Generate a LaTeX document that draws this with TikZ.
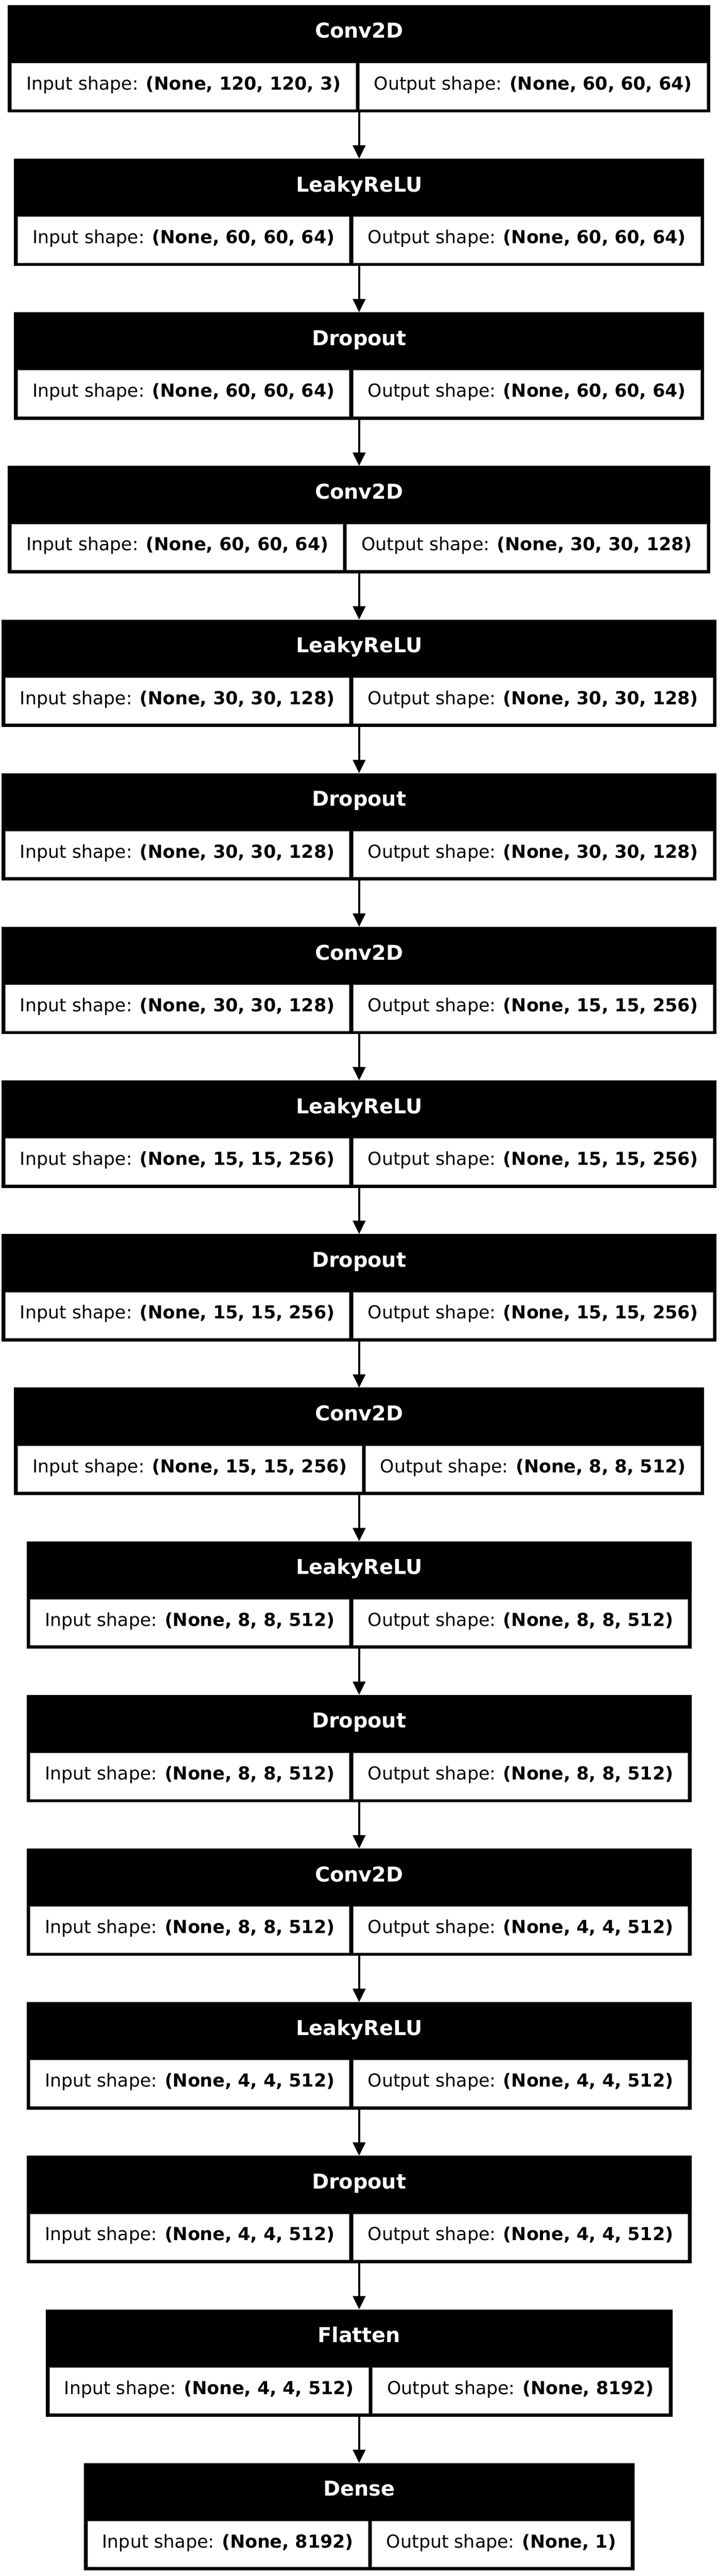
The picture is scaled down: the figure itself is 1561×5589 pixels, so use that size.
\documentclass[tikz,border=0pt]{standalone}
\usepackage{fontspec}
\setmainfont{DejaVu Sans}
\usetikzlibrary{arrows.meta}
\newlength\pxl \setlength\pxl{0.36pt}
\newlength\LBlcw \newlength\LBrcw \newlength\LBtot
\newsavebox\LBboxa \newsavebox\LBboxb
\newcommand\cellfont{\fontsize{14pt}{17pt}\selectfont}
\newcommand\headfont{\fontsize{16pt}{19pt}\selectfont\bfseries}
\tikzset{
  layerbox/.style={rectangle, fill=black, inner sep=0pt, outer sep=0pt, minimum height=233*\pxl},
  headtext/.style={text=white, font=\headfont, inner sep=0pt, outer sep=0pt},
  cellbox/.style={rectangle, fill=white, draw=black!50, line width=1*\pxl, inner xsep=32*\pxl, inner ysep=0pt,
    outer sep=0pt, minimum height=100*\pxl, font=\cellfont, text height=30*\pxl, text depth=14*\pxl},
  flowarrow/.style={line width=5*\pxl, -{Triangle[width=9.72pt,length=10.44pt]}},
}
\newcommand\layerblock[5]{%
  \pgfinterruptpicture
    \global\setbox\LBboxa=\hbox{\cellfont Input shape: \textbf{#4}}%
    \global\setbox\LBboxb=\hbox{\cellfont Output shape: \textbf{#5}}%
  \endpgfinterruptpicture
  \LBlcw=\wd\LBboxa \advance\LBlcw by 64\pxl
  \LBrcw=\wd\LBboxb \advance\LBrcw by 64\pxl
  \LBtot=\LBlcw \advance\LBtot by \LBrcw \advance\LBtot by 24\pxl
  \edef\LBtotval{\the\LBtot}%
  \edef\LBlval{\the\LBlcw}%
  \edef\LBrval{\the\LBrcw}%
  \node[layerbox, minimum width=\LBtotval, anchor=north] (#1) at (780,#2) {};
  \node[headtext, anchor=base] (#1-title) at ([yshift=-71.7*\pxl]#1.north) {#3};
  \node[cellbox, minimum width=\LBlval, anchor=north west] (#1-in) at ([xshift=8*\pxl, yshift=-126*\pxl]#1.north west) {Input shape: \textbf{#4}};
  \node[cellbox, minimum width=\LBrval, anchor=north east] (#1-out) at ([xshift=-8*\pxl, yshift=-126*\pxl]#1.north east) {Output shape: \textbf{#5}};
}
\begin{document}
\begin{tikzpicture}[x=0.36pt, y=-0.36pt]
  \fill[white] (0,0) rectangle (1561,5589);
  \useasboundingbox (0,0) rectangle (1561,5589);
  \layerblock{b0}{11}{Conv2D}{(None, 120, 120, 3)}{(None, 60, 60, 64)}
  \layerblock{b1}{344.3}{LeakyReLU}{(None, 60, 60, 64)}{(None, 60, 60, 64)}
  \layerblock{b2}{677.6}{Dropout}{(None, 60, 60, 64)}{(None, 60, 60, 64)}
  \layerblock{b3}{1010.9}{Conv2D}{(None, 60, 60, 64)}{(None, 30, 30, 128)}
  \layerblock{b4}{1344.2}{LeakyReLU}{(None, 30, 30, 128)}{(None, 30, 30, 128)}
  \layerblock{b5}{1677.5}{Dropout}{(None, 30, 30, 128)}{(None, 30, 30, 128)}
  \layerblock{b6}{2010.8}{Conv2D}{(None, 30, 30, 128)}{(None, 15, 15, 256)}
  \layerblock{b7}{2344.1}{LeakyReLU}{(None, 15, 15, 256)}{(None, 15, 15, 256)}
  \layerblock{b8}{2677.4}{Dropout}{(None, 15, 15, 256)}{(None, 15, 15, 256)}
  \layerblock{b9}{3010.7}{Conv2D}{(None, 15, 15, 256)}{(None, 8, 8, 512)}
  \layerblock{b10}{3344}{LeakyReLU}{(None, 8, 8, 512)}{(None, 8, 8, 512)}
  \layerblock{b11}{3677.3}{Dropout}{(None, 8, 8, 512)}{(None, 8, 8, 512)}
  \layerblock{b12}{4010.6}{Conv2D}{(None, 8, 8, 512)}{(None, 4, 4, 512)}
  \layerblock{b13}{4343.9}{LeakyReLU}{(None, 4, 4, 512)}{(None, 4, 4, 512)}
  \layerblock{b14}{4677.2}{Dropout}{(None, 4, 4, 512)}{(None, 4, 4, 512)}
  \layerblock{b15}{5010.5}{Flatten}{(None, 4, 4, 512)}{(None, 8192)}
  \layerblock{b16}{5343.8}{Dense}{(None, 8192)}{(None, 1)}
  \foreach \a/\b in {b0/b1, b1/b2, b2/b3, b3/b4, b4/b5, b5/b6, b6/b7, b7/b8, b8/b9, b9/b10, b10/b11, b11/b12, b12/b13, b13/b14, b14/b15, b15/b16}
    \draw[flowarrow] (\a.south) -- (\b.north);
\end{tikzpicture}
\end{document}
